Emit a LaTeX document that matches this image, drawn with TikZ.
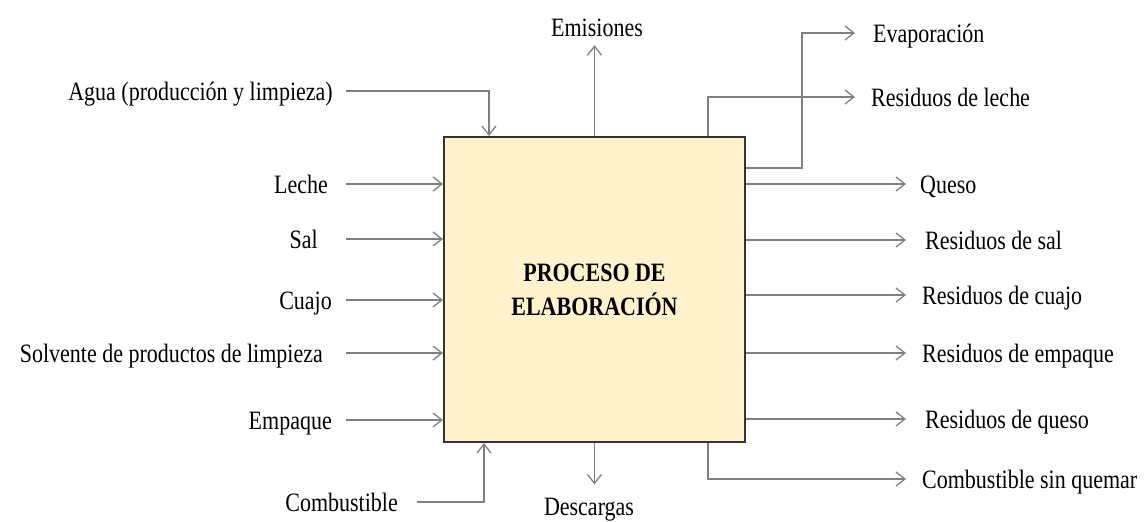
\documentclass[tikz,border=0pt]{standalone}
\usepackage{fontspec}
\setmainfont{Liberation Serif}[FakeStretch=0.83]
\usetikzlibrary{arrows.meta}
\definecolor{boxfill}{HTML}{FFF2CC}
\definecolor{linegray}{HTML}{808080}
\begin{document}
\begin{tikzpicture}[x=1pt,y=-1pt,
    every node/.style={font=\fontsize{26.5}{34}\selectfont},
    flow/.style={draw=linegray, line width=1.3pt, -{Straight Barb[length=9pt,width=14pt]}},
    inlab/.style={anchor=east, inner sep=0pt, text height=18pt, text depth=0pt},
    outlab/.style={anchor=west, inner sep=0pt, text height=18pt, text depth=0pt}]
    \useasboundingbox (0,0) rectangle (1146,522);

    \node[draw=black!80, line width=2pt, fill=boxfill, minimum width=301pt, minimum height=305pt,
          align=center, font=\fontsize{26.5}{34}\selectfont\bfseries] (proc) at (594.5,289.5) {PROCESO DE\\ELABORACIÓN};

    \node[inlab] (agua) at (333,91) {Agua (producción y limpieza)};
    \node[inlab] (leche) at (328,184) {Leche};
    \node[inlab] (sal) at (318,239) {Sal};
    \node[inlab] (cuajo) at (332,300) {Cuajo};
    \node[inlab] (solv) at (323,353) {Solvente de productos de limpieza};
    \node[inlab] (empq) at (332,420) {Empaque};
    \node[inlab] (comb) at (398,502) {Combustible};

    \node[outlab] (evap) at (873,33) {Evaporación};
    \node[outlab] (rleche) at (871,97) {Residuos de leche};
    \node[outlab] (queso) at (920,184) {Queso};
    \node[outlab] (rsal) at (925,240) {Residuos de sal};
    \node[outlab] (rcuajo) at (922,295) {Residuos de cuajo};
    \node[outlab] (rempq) at (922,353) {Residuos de empaque};
    \node[outlab] (rqueso) at (925,419) {Residuos de queso};
    \node[outlab] (csq) at (922,479) {Combustible sin quemar};

    \node[inner sep=0pt, text height=18pt, text depth=0pt] (emis) at (597,27) {Emisiones};
    \node[inner sep=0pt, anchor=base] (desc) at (589,515) {Descargas};

    \coordinate (instart) at (346,0);
    \coordinate (outtip) at (906,0);
    \coordinate (toptip) at (855,0);

    \draw[flow] (agua.east -| instart) -| ([xshift=46pt]proc.north west);
    \foreach \n in {leche,sal,cuajo,solv,empq}
        \draw[flow] (\n.east -| instart) -- (\n.east -| proc.west);
    \draw[flow] ([xshift=19pt]comb.east) -| ([xshift=41pt]proc.south west);

    \draw[flow, shorten >=9pt] (proc.north) -- (proc.north |- emis.south);
    \draw[flow, shorten >=13pt] (proc.south) -- (proc.south |- desc.north);

    \draw[flow] ([yshift=-32pt]proc.north east) -- ++(56,0) |- (evap.west -| toptip);
    \draw[flow] ([xshift=-38pt]proc.north east) |- (rleche.west -| toptip);
    \foreach \n in {queso,rsal,rcuajo,rempq,rqueso}
        \draw[flow] (\n.west -| proc.east) -- (\n.west -| outtip);
    \draw[flow] ([xshift=-38pt]proc.south east) |- (csq.west -| outtip);
\end{tikzpicture}
\end{document}
